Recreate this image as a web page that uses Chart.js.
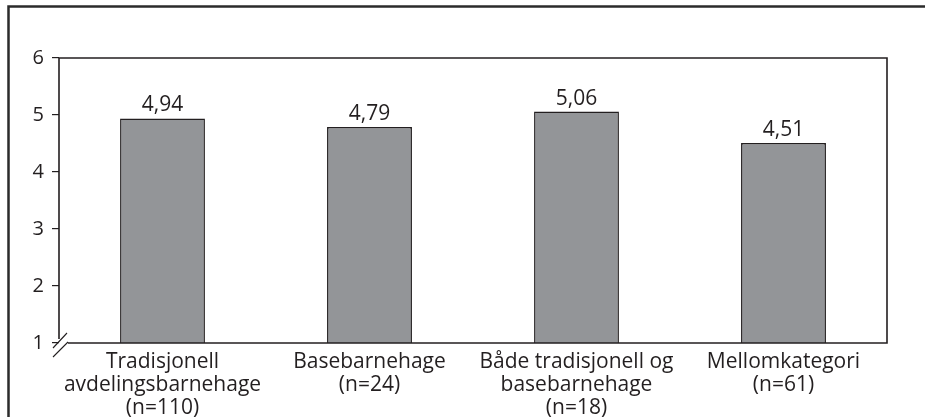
<!DOCTYPE html>
<html>
<head>
<meta charset="utf-8">
<script src="https://cdn.jsdelivr.net/npm/chart.js@4/dist/chart.umd.min.js"></script>
<style>
  html, body { margin: 0; padding: 0; background: #fff; }
  #wrap { width: 925px; height: 417px; position: relative; }
</style>
</head>
<body>
<div id="wrap"><canvas id="chart" width="925" height="417"></canvas></div>
<script>
// data
var categories = [
    ['Tradisjonell', 'avdelingsbarnehage', '(n=110)'],
    ['Basebarnehage', '(n=24)'],
    ['Både tradisjonell og', 'basebarnehage', '(n=18)'],
    ['Mellomkategori', '(n=61)']
];
var values = [4.94, 4.79, 5.06, 4.51];
var yTicks = [1, 2, 3, 4, 5, 6];

var ink = '#231f20';
var fontFamily = '"Open Sans", "Noto Sans", sans-serif';

// frame, plot box and axis break
var framePlugin = {
    id: 'frame',
    afterDraw: function (chart) {
        var ctx = chart.ctx;
        var a = chart.chartArea;
        ctx.save();
        ctx.strokeStyle = '#2b2b2b';
        ctx.lineWidth = 2.5;
        ctx.beginPath();
        ctx.moveTo(8.5, 417);
        ctx.lineTo(8.5, 6.5);
        ctx.lineTo(925, 6.5);
        ctx.stroke();

        ctx.strokeStyle = ink;
        ctx.lineWidth = 1.6;
        ctx.beginPath();
        ctx.moveTo(a.left, a.bottom - 4);
        ctx.lineTo(a.left, a.top);
        ctx.lineTo(a.right, a.top);
        ctx.lineTo(a.right, a.bottom);
        ctx.lineTo(a.left + 9, a.bottom);
        ctx.stroke();

        ctx.lineWidth = 1.1;
        ctx.beginPath();
        ctx.moveTo(a.left - 6, a.bottom + 5);
        ctx.lineTo(a.left + 8, a.bottom - 10);
        ctx.moveTo(a.left - 6, a.bottom + 14);
        ctx.lineTo(a.left + 9, a.bottom - 1);
        ctx.stroke();
        ctx.restore();
    }
};

// value labels above the bars
var valueLabels = {
    id: 'valueLabels',
    afterDatasetsDraw: function (chart) {
        var ctx = chart.ctx;
        var meta = chart.getDatasetMeta(0);
        ctx.save();
        ctx.fillStyle = ink;
        ctx.font = '21px ' + fontFamily;
        ctx.textAlign = 'center';
        ctx.textBaseline = 'alphabetic';
        meta.data.forEach(function (bar, i) {
            ctx.fillText(values[i].toFixed(2).replace('.', ','), bar.x, bar.y - 7);
        });
        ctx.restore();
    }
};

new Chart(document.getElementById('chart').getContext('2d'), {
    type: 'bar',
    data: {
        labels: categories,
        datasets: [{
            data: values,
            backgroundColor: '#939598',
            borderColor: ink,
            borderWidth: 1.5,
            categoryPercentage: 1,
            barPercentage: 0.41
        }]
    },
    options: {
        responsive: false,
        animation: false,
        layout: { padding: { left: 0, top: 58, right: 38, bottom: 0 } },
        plugins: { legend: { display: false }, tooltip: { enabled: false } },
        scales: {
            x: {
                grid: { display: false, drawTicks: false },
                border: { display: false },
                ticks: {
                    color: ink,
                    padding: 7,
                    maxRotation: 0,
                    font: { family: fontFamily, size: 21, lineHeight: 1.1 }
                },
                afterFit: function (scale) { scale.height = 74; }
            },
            y: {
                min: 1,
                max: 6,
                afterBuildTicks: function (scale) {
                    scale.ticks = yTicks.map(function (v) { return { value: v }; });
                },
                grid: { drawOnChartArea: false, drawTicks: true, tickLength: 7, color: ink, lineWidth: 1.2 },
                border: { display: false },
                ticks: {
                    color: ink,
                    padding: 8,
                    font: { family: fontFamily, size: 20 }
                },
                afterFit: function (scale) { scale.width = 59; }
            }
        }
    },
    plugins: [framePlugin, valueLabels]
});
</script>
</body>
</html>
